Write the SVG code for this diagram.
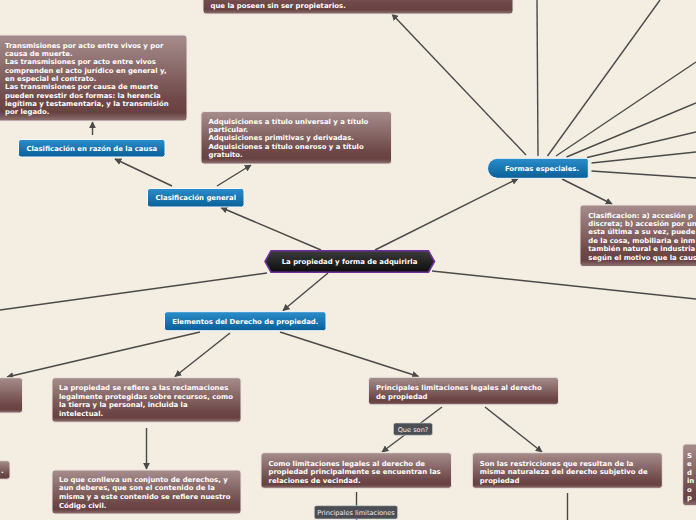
<svg xmlns="http://www.w3.org/2000/svg" width="696" height="520" viewBox="0 0 696 520">
<defs>
<linearGradient id="gBrown" x1="0" y1="0" x2="0" y2="1">
<stop offset="0" stop-color="#a68d8c"/>
<stop offset="0.75" stop-color="#6f4949"/>
<stop offset="0.9" stop-color="#684141"/>
<stop offset="1" stop-color="#8f7373"/>
</linearGradient>
<linearGradient id="gBlue" x1="0" y1="0" x2="0" y2="1">
<stop offset="0" stop-color="#2a8ecb"/>
<stop offset="1" stop-color="#0a5f98"/>
</linearGradient>
<linearGradient id="gDark" x1="0" y1="0" x2="0" y2="1">
<stop offset="0" stop-color="#3c3c3c"/>
<stop offset="1" stop-color="#0c0c0c"/>
</linearGradient>
<marker id="arr" viewBox="0 0 10 10" refX="9" refY="5" markerWidth="7" markerHeight="7" markerUnits="userSpaceOnUse" orient="auto">
<path d="M0,0 L10,5 L0,10 z" fill="#4a4a4a"/>
</marker>
<style>
.bg{fill:#f3ede2}
.c{stroke:#4a4a4a;stroke-width:1.4;fill:none}
.ca{stroke:#4a4a4a;stroke-width:1.4;fill:none;marker-end:url(#arr)}
.brown{fill:url(#gBrown);stroke:#ece4e2;stroke-width:1}
.blue{fill:url(#gBlue);stroke:#f4f8fb;stroke-width:1}
.t{font-family:"DejaVu Sans",Verdana,sans-serif;font-weight:bold;font-size:6.9px;fill:#ffffff}
.tm{font-family:"DejaVu Sans",Verdana,sans-serif;font-weight:bold;font-size:6.9px;fill:#ffffff;text-anchor:middle}
.lbl{fill:#4b4f55;stroke:#d8d8d8;stroke-width:0.6}
.lt{font-family:"DejaVu Sans",Verdana,sans-serif;font-size:6.6px;fill:#eeeeee;text-anchor:middle}
</style>
</defs>
<rect class="bg" x="0" y="0" width="696" height="520"/>

<g id="connectors">
<line class="ca" x1="321" y1="250" x2="221" y2="207.5"/>
<line class="ca" x1="172" y1="186" x2="115" y2="159"/>
<line class="ca" x1="217" y1="186" x2="251" y2="165"/>
<line class="ca" x1="92.5" y1="135" x2="92.5" y2="122"/>
<line class="ca" x1="375" y1="250" x2="518" y2="178.5"/>
<line class="ca" x1="526" y1="155" x2="392" y2="14"/>
<line class="c" x1="538" y1="156" x2="537" y2="0"/>
<line class="c" x1="547.5" y1="156" x2="660" y2="0"/>
<line class="c" x1="556" y1="156" x2="696" y2="62"/>
<line class="c" x1="566.5" y1="157" x2="696" y2="103"/>
<line class="c" x1="587" y1="157.5" x2="696" y2="132"/>
<line class="c" x1="591.5" y1="163" x2="696" y2="152"/>
<line class="c" x1="591.5" y1="171" x2="696" y2="178"/>
<line class="ca" x1="562" y1="179" x2="612" y2="204"/>
<line class="ca" x1="328" y1="273" x2="283" y2="310.5"/>
<line class="c" x1="267" y1="273" x2="0" y2="310"/>
<line class="c" x1="432" y1="271" x2="696" y2="299"/>
<line class="ca" x1="200" y1="332" x2="7" y2="377"/>
<line class="ca" x1="230" y1="333" x2="175" y2="376.5"/>
<line class="ca" x1="280" y1="332" x2="418.5" y2="376.5"/>
<line class="ca" x1="146.5" y1="428" x2="146.5" y2="469"/>
<line class="ca" x1="442" y1="407" x2="382" y2="452"/>
<line class="ca" x1="485" y1="407" x2="542" y2="452"/>
<line class="c" x1="356.5" y1="492" x2="356.5" y2="520"/>
<line class="c" x1="567.5" y1="493" x2="567.5" y2="520"/>
</g>

<g id="n-top">
<rect class="brown" x="203" y="-30" width="310" height="44" rx="3"/>
<text class="t" x="210.5" y="7.5">que la poseen sin ser propietarios.</text>
</g>

<g id="n-transmisiones">
<rect class="brown" x="-3" y="35" width="190" height="86" rx="3"/>
<text class="t" x="5" y="47.5">Transmisiones por acto entre vivos y por</text>
<text class="t" x="5" y="55.8">causa de muerte.</text>
<text class="t" x="5" y="64.2">Las transmisiones por acto entre vivos</text>
<text class="t" x="5" y="72.5">comprenden el acto jurídico en general y,</text>
<text class="t" x="5" y="80.8">en especial el contrato.</text>
<text class="t" x="5" y="89.2">Las transmisiones por causa de muerte</text>
<text class="t" x="5" y="97.5">pueden revestir dos formas: la herencia</text>
<text class="t" x="5" y="105.8">legítima y testamentaria, y la transmisión</text>
<text class="t" x="5" y="114.2">por legado.</text>
</g>

<g id="n-razon">
<rect class="blue" x="18.5" y="139.5" width="146.5" height="17.5" rx="2.5"/>
<text class="tm" x="91.8" y="150.8">Clasificación en razón de la causa</text>
</g>

<g id="n-general">
<rect class="blue" x="147.5" y="188.5" width="96.5" height="18.5" rx="2.5"/>
<text class="tm" x="195.8" y="200.3">Clasificación general</text>
</g>

<g id="n-adquisiciones">
<rect class="brown" x="201" y="111.5" width="190.5" height="52.5" rx="3"/>
<text class="t" x="208.5" y="123.5">Adquisiciones a título universal y a título</text>
<text class="t" x="208.5" y="131.9">particular.</text>
<text class="t" x="208.5" y="140.3">Adquisiciones primitivas y derivadas.</text>
<text class="t" x="208.5" y="148.7">Adquisiciones a título oneroso y a título</text>
<text class="t" x="208.5" y="157.1">gratuito.</text>
</g>

<g id="n-central">
<path d="M265,261.5 L271,250.8 L428.5,250.8 L434.5,261.5 L428.5,272.2 L271,272.2 Z" fill="url(#gDark)" stroke="#6f2f9c" stroke-width="1.6"/>
<text class="tm" x="349.5" y="264.3">La propiedad y forma de adquirirla</text>
</g>

<g id="n-formas">
<path d="M497.5,158.3 L586.3,158.3 Q588.3,158.3 588.3,160.3 L588.3,176.3 Q588.3,178.3 586.3,178.3 L497.5,178.3 A10,10 0 0 1 497.5,158.3 Z" fill="url(#gBlue)" stroke="#f4f8fb" stroke-width="1"/>
<text class="tm" x="542" y="170.8">Formas especiales.</text>
</g>

<g id="n-clasificacion">
<rect class="brown" x="580" y="205" width="130" height="61.5" rx="3"/>
<text class="t" x="588.3" y="217.5">Clasificacion: a) accesión p</text>
<text class="t" x="588.3" y="225.9">discreta; b) accesión por un</text>
<text class="t" x="588.3" y="234.3">esta última a su vez, puede</text>
<text class="t" x="588.3" y="242.7">de la cosa, mobiliaria e inm</text>
<text class="t" x="588.3" y="251.1">también natural e industria</text>
<text class="t" x="588.3" y="259.5">según el motivo que la caus</text>
</g>

<g id="n-elementos">
<rect class="blue" x="164.5" y="311.7" width="161.5" height="19" rx="2.5"/>
<text class="tm" x="245.3" y="323.7">Elementos del Derecho de propiedad.</text>
</g>

<g id="n-left1">
<rect class="brown" x="-10" y="377.7" width="32.5" height="35.3" rx="3"/>
</g>

<g id="n-propiedad">
<rect class="brown" x="52" y="377.7" width="189" height="44.5" rx="3"/>
<text class="t" x="59" y="390.2">La propiedad se refiere a las reclamaciones</text>
<text class="t" x="59" y="398.7">legalmente protegidas sobre recursos, como</text>
<text class="t" x="59" y="407.2">la tierra y la personal, incluida la</text>
<text class="t" x="59" y="415.7">intelectual.</text>
</g>

<g id="n-left2">
<rect class="brown" x="-10" y="460.7" width="20" height="18.6" rx="3"/>
<text class="t" x="1" y="473">.</text>
</g>

<g id="n-conlleva">
<rect class="brown" x="52" y="470" width="189" height="44" rx="3"/>
<text class="t" x="59" y="481.8">Lo que conlleva un conjunto de derechos, y</text>
<text class="t" x="59" y="490.4">aun deberes, que son el contenido de la</text>
<text class="t" x="59" y="499">misma y a este contenido se refiere nuestro</text>
<text class="t" x="59" y="507.6">Código civil.</text>
</g>

<g id="n-limitaciones">
<rect class="brown" x="368.5" y="377.3" width="190" height="27.5" rx="3"/>
<text class="t" x="376" y="389.8">Principales limitaciones legales al derecho</text>
<text class="t" x="376" y="398.6">de propiedad</text>
</g>

<g id="l-queson">
<rect class="lbl" x="393.5" y="423" width="39" height="12.3" rx="2"/>
<text class="lt" x="413" y="431.7">Que son?</text>
</g>

<g id="n-como">
<rect class="brown" x="261" y="452.7" width="190.5" height="35.6" rx="3"/>
<text class="t" x="268.5" y="465.8">Como limitaciones legales al derecho de</text>
<text class="t" x="268.5" y="474.3">propiedad principalmente se encuentran las</text>
<text class="t" x="268.5" y="482.8">relaciones de vecindad.</text>
</g>

<g id="l-principales">
<rect class="lbl" x="314.3" y="505.7" width="83.3" height="13.3" rx="2"/>
<text class="lt" x="356" y="514.8">Principales limitaciones</text>
</g>

<g id="n-restricciones">
<rect class="brown" x="472.3" y="452.7" width="190" height="35.6" rx="3"/>
<text class="t" x="479.8" y="465.8">Son las restricciones que resultan de la</text>
<text class="t" x="479.8" y="474.3">misma naturaleza del derecho subjetivo de</text>
<text class="t" x="479.8" y="482.8">propiedad</text>
</g>

<g id="n-right">
<rect class="brown" x="682.7" y="444" width="30" height="61.7" rx="3"/>
<text class="t" x="687" y="457.5">S</text>
<text class="t" x="687" y="466">e</text>
<text class="t" x="687" y="474.5">d</text>
<text class="t" x="687" y="483">in</text>
<text class="t" x="687" y="491.5">o</text>
<text class="t" x="687" y="500">p</text>
</g>
</svg>
